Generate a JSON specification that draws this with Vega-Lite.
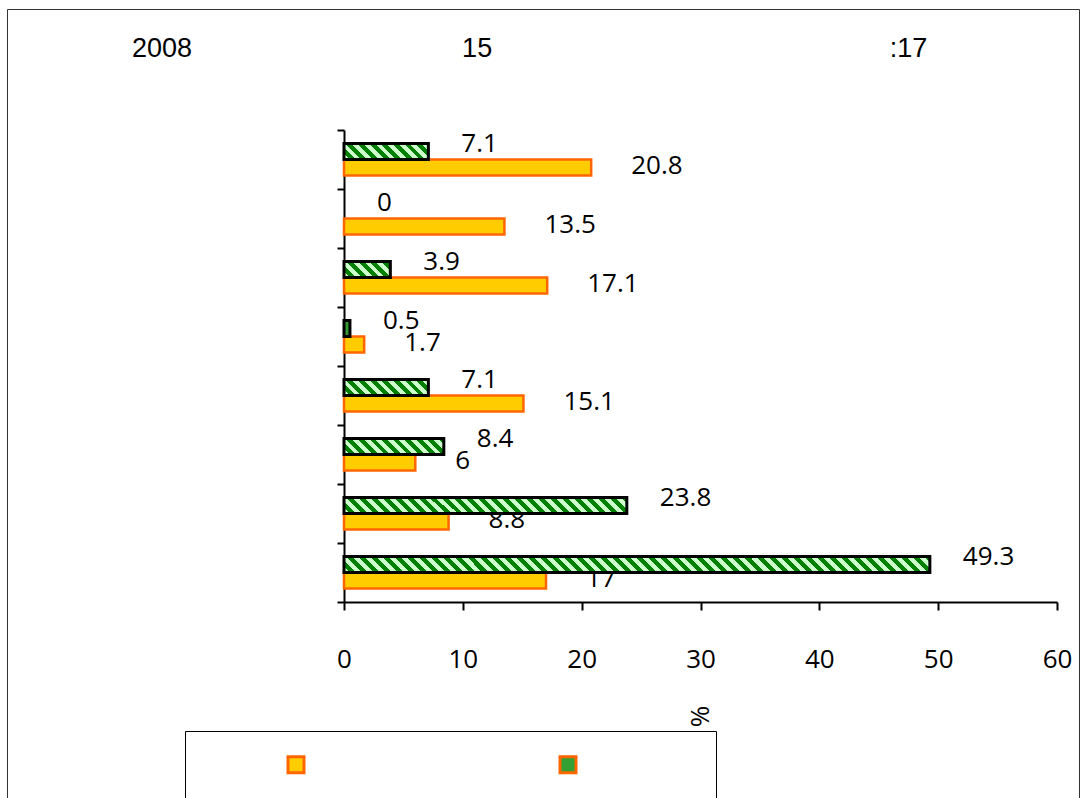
{
"$schema": "https://vega.github.io/schema/vega-lite/v6.json",
"width": 713,
"height": 472,
"autosize": {"type": "none"},
"padding": {"left": 344, "top": 130, "right": 24, "bottom": 196},
"background": "white",
"title": {
  "text": "2008\u00a0\u00a0\u00a0\u00a0\u00a0\u00a0\u00a0\u00a0\u00a0\u00a0\u00a0\u00a0\u00a0\u00a0\u00a0\u00a0\u00a0\u00a0\u00a0\u00a0\u00a0\u00a0\u00a0\u00a0\u00a0\u00a0\u00a0\u00a0\u00a0\u00a0\u00a0\u00a0\u00a0\u00a0\u00a0\u00a015\u00a0\u00a0\u00a0\u00a0\u00a0\u00a0\u00a0\u00a0\u00a0\u00a0\u00a0\u00a0\u00a0\u00a0\u00a0\u00a0\u00a0\u00a0\u00a0\u00a0\u00a0\u00a0\u00a0\u00a0\u00a0\u00a0\u00a0\u00a0\u00a0\u00a0\u00a0\u00a0\u00a0\u00a0\u00a0\u00a0\u00a0\u00a0\u00a0\u00a0\u00a0\u00a0\u00a0\u00a0\u00a0\u00a0\u00a0\u00a0\u00a0\u00a0\u00a0\u00a0\u00a0:17",
  "anchor": "start",
  "frame": "group",
  "dx": -212,
  "offset": -75,
  "baseline": "alphabetic",
  "fontSize": 27,
  "fontWeight": "normal",
  "font": "Liberation Sans",
  "color": "black"
},
"data": {"values": [
  {"cat": "c1", "s": "b", "value": 7.1},
  {"cat": "c1", "s": "a", "value": 20.8},
  {"cat": "c2", "s": "b", "value": 0},
  {"cat": "c2", "s": "a", "value": 13.5},
  {"cat": "c3", "s": "b", "value": 3.9},
  {"cat": "c3", "s": "a", "value": 17.1},
  {"cat": "c4", "s": "b", "value": 0.5},
  {"cat": "c4", "s": "a", "value": 1.7},
  {"cat": "c5", "s": "b", "value": 7.1},
  {"cat": "c5", "s": "a", "value": 15.1},
  {"cat": "c6", "s": "b", "value": 8.4},
  {"cat": "c6", "s": "a", "value": 6},
  {"cat": "c7", "s": "b", "value": 23.8},
  {"cat": "c7", "s": "a", "value": 8.8},
  {"cat": "c8", "s": "b", "value": 49.3},
  {"cat": "c8", "s": "a", "value": 17}
]},
"encoding": {
  "y": {"field": "cat", "type": "nominal", "sort": null,
        "scale": {"paddingInner": 0, "paddingOuter": 0},
        "axis": {"title": null, "labels": false, "ticks": true, "tickBand": "extent", "tickSize": 7, "tickWidth": 2, "tickColor": "black", "domainColor": "black", "domainWidth": 2, "grid": false}},
  "yOffset": {"field": "s", "type": "nominal", "scale": {"domain": ["b", "a"], "paddingInner": 0, "paddingOuter": 0.844}},
  "x": {"field": "value", "type": "quantitative", "scale": {"domain": [0, 60], "nice": false},
        "axis": {"values": [0, 10, 20, 30, 40, 50, 60], "title": "%", "titleAngle": 270, "titleX": 356.5, "titleY": 114, "titleAlign": "center", "titleBaseline": "middle", "titleFontSize": 26, "titleFontWeight": "normal", "titleColor": "black", "titleFont": "Open Sans", "labelFont": "Open Sans", "labelFontSize": 26, "labelColor": "black", "labelPadding": 36, "labelFlush": false, "tickSize": 8, "tickWidth": 2, "tickColor": "black", "domainColor": "black", "domainWidth": 2, "grid": false}}
},
"layer": [
  {
    "transform": [{"filter": "datum.s === 'a'"}],
    "mark": {"type": "bar", "stroke": "#ff6600", "strokeWidth": 2.5},
    "encoding": {
      "color": {"field": "s", "type": "nominal", "scale": {"domain": ["a", "b"], "range": ["#ffcc00", "#33a033"]},
        "legend": {"orient": "none", "legendX": -159, "legendY": 601, "direction": "horizontal", "columns": 2, "title": null,
          "labelExpr": "''", "symbolType": "square", "symbolSize": 256, "symbolStrokeWidth": 3, "symbolOffset": 77.5,
          "labelOffset": 114.5, "columnPadding": 61, "padding": 24, "strokeColor": "black",
          "encode": {
            "legend": {"strokeWidth": {"value": 2}}
          }
        }}
    }
  },
  {
    "transform": [{"filter": "datum.s === 'a'"}],
    "mark": {"type": "text", "align": "left", "baseline": "middle", "dx": 40, "dy": -1, "fontSize": 26, "font": "Open Sans", "color": "black"},
    "encoding": {"text": {"field": "value", "type": "nominal"}}
  },
  {
    "transform": [{"filter": "datum.s === 'b' && datum.value === 7.1"}],
    "mark": {"type": "bar", "stroke": "black", "strokeWidth": 3,
      "fill": {"gradient": "linear", "x1": 0, "y1": 1, "x2": 1.148, "y2": 0.782, "stops": [
            {"offset":0.058,"color":"#cfc"},{"offset":0.058,"color":"green"},
            {"offset":0.116,"color":"green"},{"offset":0.116,"color":"#cfc"},
            {"offset":0.174,"color":"#cfc"},{"offset":0.174,"color":"green"},
            {"offset":0.232,"color":"green"},{"offset":0.232,"color":"#cfc"},
            {"offset":0.29,"color":"#cfc"},{"offset":0.29,"color":"green"},
            {"offset":0.348,"color":"green"},{"offset":0.348,"color":"#cfc"},
            {"offset":0.406,"color":"#cfc"},{"offset":0.406,"color":"green"},
            {"offset":0.464,"color":"green"},{"offset":0.464,"color":"#cfc"},
            {"offset":0.522,"color":"#cfc"},{"offset":0.522,"color":"green"},
            {"offset":0.58,"color":"green"},{"offset":0.58,"color":"#cfc"},
            {"offset":0.638,"color":"#cfc"},{"offset":0.638,"color":"green"},
            {"offset":0.696,"color":"green"},{"offset":0.696,"color":"#cfc"},
            {"offset":0.754,"color":"#cfc"},{"offset":0.754,"color":"green"},
            {"offset":0.812,"color":"green"},{"offset":0.812,"color":"#cfc"},
            {"offset":0.87,"color":"#cfc"},{"offset":0.87,"color":"green"},
            {"offset":0.928,"color":"green"},{"offset":0.928,"color":"#cfc"},
            {"offset":0.986,"color":"#cfc"},{"offset":0.986,"color":"green"}]}},
    "encoding": {}
  },
  {
    "transform": [{"filter": "datum.s === 'b' && datum.value === 3.9"}],
    "mark": {"type": "bar", "stroke": "black", "strokeWidth": 3,
      "fill": {"gradient": "linear", "x1": 0, "y1": 1, "x2": 1.202, "y2": 0.585, "stops": [
            {"offset":0.095,"color":"#cfc"},{"offset":0.095,"color":"green"},
            {"offset":0.19,"color":"green"},{"offset":0.19,"color":"#cfc"},
            {"offset":0.285,"color":"#cfc"},{"offset":0.285,"color":"green"},
            {"offset":0.38,"color":"green"},{"offset":0.38,"color":"#cfc"},
            {"offset":0.475,"color":"#cfc"},{"offset":0.475,"color":"green"},
            {"offset":0.57,"color":"green"},{"offset":0.57,"color":"#cfc"},
            {"offset":0.665,"color":"#cfc"},{"offset":0.665,"color":"green"},
            {"offset":0.76,"color":"green"},{"offset":0.76,"color":"#cfc"},
            {"offset":0.855,"color":"#cfc"},{"offset":0.855,"color":"green"},
            {"offset":0.95,"color":"green"},{"offset":0.95,"color":"#cfc"}]}},
    "encoding": {}
  },
  {
    "transform": [{"filter": "datum.s === 'b' && datum.value === 0.5"}],
    "mark": {"type": "bar", "stroke": "black", "strokeWidth": 3, "fill": "#339933"},
    "encoding": {}
  },
  {
    "transform": [{"filter": "datum.s === 'b' && datum.value === 8.4"}],
    "mark": {"type": "bar", "stroke": "black", "strokeWidth": 3,
      "fill": {"gradient": "linear", "x1": 0, "y1": 1, "x2": 1.131, "y2": 0.819, "stops": [
            {"offset":0.05,"color":"#cfc"},{"offset":0.05,"color":"green"},
            {"offset":0.1,"color":"green"},{"offset":0.1,"color":"#cfc"},
            {"offset":0.15,"color":"#cfc"},{"offset":0.15,"color":"green"},
            {"offset":0.2,"color":"green"},{"offset":0.2,"color":"#cfc"},
            {"offset":0.25,"color":"#cfc"},{"offset":0.25,"color":"green"},
            {"offset":0.3,"color":"green"},{"offset":0.3,"color":"#cfc"},
            {"offset":0.35,"color":"#cfc"},{"offset":0.35,"color":"green"},
            {"offset":0.4,"color":"green"},{"offset":0.4,"color":"#cfc"},
            {"offset":0.45,"color":"#cfc"},{"offset":0.45,"color":"green"},
            {"offset":0.5,"color":"green"},{"offset":0.5,"color":"#cfc"},
            {"offset":0.55,"color":"#cfc"},{"offset":0.55,"color":"green"},
            {"offset":0.6,"color":"green"},{"offset":0.6,"color":"#cfc"},
            {"offset":0.65,"color":"#cfc"},{"offset":0.65,"color":"green"},
            {"offset":0.7,"color":"green"},{"offset":0.7,"color":"#cfc"},
            {"offset":0.75,"color":"#cfc"},{"offset":0.75,"color":"green"},
            {"offset":0.8,"color":"green"},{"offset":0.8,"color":"#cfc"},
            {"offset":0.85,"color":"#cfc"},{"offset":0.85,"color":"green"},
            {"offset":0.9,"color":"green"},{"offset":0.9,"color":"#cfc"},
            {"offset":0.95,"color":"#cfc"},{"offset":0.95,"color":"green"}]}},
    "encoding": {}
  },
  {
    "transform": [{"filter": "datum.s === 'b' && datum.value === 23.8"}],
    "mark": {"type": "bar", "stroke": "black", "strokeWidth": 3,
      "fill": {"gradient": "linear", "x1": 0, "y1": 1, "x2": 1.053, "y2": 0.94, "stops": [
            {"offset":0.02,"color":"#cfc"},{"offset":0.02,"color":"green"},
            {"offset":0.04,"color":"green"},{"offset":0.04,"color":"#cfc"},
            {"offset":0.06,"color":"#cfc"},{"offset":0.06,"color":"green"},
            {"offset":0.08,"color":"green"},{"offset":0.08,"color":"#cfc"},
            {"offset":0.1,"color":"#cfc"},{"offset":0.1,"color":"green"},
            {"offset":0.12,"color":"green"},{"offset":0.12,"color":"#cfc"},
            {"offset":0.14,"color":"#cfc"},{"offset":0.14,"color":"green"},
            {"offset":0.16,"color":"green"},{"offset":0.16,"color":"#cfc"},
            {"offset":0.18,"color":"#cfc"},{"offset":0.18,"color":"green"},
            {"offset":0.2,"color":"green"},{"offset":0.2,"color":"#cfc"},
            {"offset":0.22,"color":"#cfc"},{"offset":0.22,"color":"green"},
            {"offset":0.24,"color":"green"},{"offset":0.24,"color":"#cfc"},
            {"offset":0.26,"color":"#cfc"},{"offset":0.26,"color":"green"},
            {"offset":0.28,"color":"green"},{"offset":0.28,"color":"#cfc"},
            {"offset":0.3,"color":"#cfc"},{"offset":0.3,"color":"green"},
            {"offset":0.32,"color":"green"},{"offset":0.32,"color":"#cfc"},
            {"offset":0.34,"color":"#cfc"},{"offset":0.34,"color":"green"},
            {"offset":0.36,"color":"green"},{"offset":0.36,"color":"#cfc"},
            {"offset":0.38,"color":"#cfc"},{"offset":0.38,"color":"green"},
            {"offset":0.4,"color":"green"},{"offset":0.4,"color":"#cfc"},
            {"offset":0.42,"color":"#cfc"},{"offset":0.42,"color":"green"},
            {"offset":0.44,"color":"green"},{"offset":0.44,"color":"#cfc"},
            {"offset":0.46,"color":"#cfc"},{"offset":0.46,"color":"green"},
            {"offset":0.48,"color":"green"},{"offset":0.48,"color":"#cfc"},
            {"offset":0.5,"color":"#cfc"},{"offset":0.5,"color":"green"},
            {"offset":0.52,"color":"green"},{"offset":0.52,"color":"#cfc"},
            {"offset":0.54,"color":"#cfc"},{"offset":0.54,"color":"green"},
            {"offset":0.56,"color":"green"},{"offset":0.56,"color":"#cfc"},
            {"offset":0.58,"color":"#cfc"},{"offset":0.58,"color":"green"},
            {"offset":0.6,"color":"green"},{"offset":0.6,"color":"#cfc"},
            {"offset":0.62,"color":"#cfc"},{"offset":0.62,"color":"green"},
            {"offset":0.64,"color":"green"},{"offset":0.64,"color":"#cfc"},
            {"offset":0.66,"color":"#cfc"},{"offset":0.66,"color":"green"},
            {"offset":0.68,"color":"green"},{"offset":0.68,"color":"#cfc"},
            {"offset":0.7,"color":"#cfc"},{"offset":0.7,"color":"green"},
            {"offset":0.72,"color":"green"},{"offset":0.72,"color":"#cfc"},
            {"offset":0.74,"color":"#cfc"},{"offset":0.74,"color":"green"},
            {"offset":0.76,"color":"green"},{"offset":0.76,"color":"#cfc"},
            {"offset":0.78,"color":"#cfc"},{"offset":0.78,"color":"green"},
            {"offset":0.8,"color":"green"},{"offset":0.8,"color":"#cfc"},
            {"offset":0.82,"color":"#cfc"},{"offset":0.82,"color":"green"},
            {"offset":0.84,"color":"green"},{"offset":0.84,"color":"#cfc"},
            {"offset":0.86,"color":"#cfc"},{"offset":0.86,"color":"green"},
            {"offset":0.88,"color":"green"},{"offset":0.88,"color":"#cfc"},
            {"offset":0.9,"color":"#cfc"},{"offset":0.9,"color":"green"},
            {"offset":0.92,"color":"green"},{"offset":0.92,"color":"#cfc"},
            {"offset":0.94,"color":"#cfc"},{"offset":0.94,"color":"green"},
            {"offset":0.96,"color":"green"},{"offset":0.96,"color":"#cfc"},
            {"offset":0.98,"color":"#cfc"},{"offset":0.98,"color":"green"}]}},
    "encoding": {}
  },
  {
    "transform": [{"filter": "datum.s === 'b' && datum.value === 49.3"}],
    "mark": {"type": "bar", "stroke": "black", "strokeWidth": 3,
      "fill": {"gradient": "linear", "x1": 0, "y1": 1, "x2": 1.027, "y2": 0.972, "stops": [
            {"offset":0.01,"color":"#cfc"},{"offset":0.01,"color":"green"},
            {"offset":0.02,"color":"green"},{"offset":0.02,"color":"#cfc"},
            {"offset":0.03,"color":"#cfc"},{"offset":0.03,"color":"green"},
            {"offset":0.04,"color":"green"},{"offset":0.04,"color":"#cfc"},
            {"offset":0.05,"color":"#cfc"},{"offset":0.05,"color":"green"},
            {"offset":0.06,"color":"green"},{"offset":0.06,"color":"#cfc"},
            {"offset":0.07,"color":"#cfc"},{"offset":0.07,"color":"green"},
            {"offset":0.08,"color":"green"},{"offset":0.08,"color":"#cfc"},
            {"offset":0.09,"color":"#cfc"},{"offset":0.09,"color":"green"},
            {"offset":0.1,"color":"green"},{"offset":0.1,"color":"#cfc"},
            {"offset":0.11,"color":"#cfc"},{"offset":0.11,"color":"green"},
            {"offset":0.12,"color":"green"},{"offset":0.12,"color":"#cfc"},
            {"offset":0.13,"color":"#cfc"},{"offset":0.13,"color":"green"},
            {"offset":0.14,"color":"green"},{"offset":0.14,"color":"#cfc"},
            {"offset":0.15,"color":"#cfc"},{"offset":0.15,"color":"green"},
            {"offset":0.16,"color":"green"},{"offset":0.16,"color":"#cfc"},
            {"offset":0.17,"color":"#cfc"},{"offset":0.17,"color":"green"},
            {"offset":0.18,"color":"green"},{"offset":0.18,"color":"#cfc"},
            {"offset":0.19,"color":"#cfc"},{"offset":0.19,"color":"green"},
            {"offset":0.2,"color":"green"},{"offset":0.2,"color":"#cfc"},
            {"offset":0.21,"color":"#cfc"},{"offset":0.21,"color":"green"},
            {"offset":0.22,"color":"green"},{"offset":0.22,"color":"#cfc"},
            {"offset":0.23,"color":"#cfc"},{"offset":0.23,"color":"green"},
            {"offset":0.24,"color":"green"},{"offset":0.24,"color":"#cfc"},
            {"offset":0.25,"color":"#cfc"},{"offset":0.25,"color":"green"},
            {"offset":0.26,"color":"green"},{"offset":0.26,"color":"#cfc"},
            {"offset":0.27,"color":"#cfc"},{"offset":0.27,"color":"green"},
            {"offset":0.28,"color":"green"},{"offset":0.28,"color":"#cfc"},
            {"offset":0.29,"color":"#cfc"},{"offset":0.29,"color":"green"},
            {"offset":0.3,"color":"green"},{"offset":0.3,"color":"#cfc"},
            {"offset":0.31,"color":"#cfc"},{"offset":0.31,"color":"green"},
            {"offset":0.32,"color":"green"},{"offset":0.32,"color":"#cfc"},
            {"offset":0.33,"color":"#cfc"},{"offset":0.33,"color":"green"},
            {"offset":0.34,"color":"green"},{"offset":0.34,"color":"#cfc"},
            {"offset":0.35,"color":"#cfc"},{"offset":0.35,"color":"green"},
            {"offset":0.36,"color":"green"},{"offset":0.36,"color":"#cfc"},
            {"offset":0.37,"color":"#cfc"},{"offset":0.37,"color":"green"},
            {"offset":0.38,"color":"green"},{"offset":0.38,"color":"#cfc"},
            {"offset":0.39,"color":"#cfc"},{"offset":0.39,"color":"green"},
            {"offset":0.4,"color":"green"},{"offset":0.4,"color":"#cfc"},
            {"offset":0.41,"color":"#cfc"},{"offset":0.41,"color":"green"},
            {"offset":0.42,"color":"green"},{"offset":0.42,"color":"#cfc"},
            {"offset":0.43,"color":"#cfc"},{"offset":0.43,"color":"green"},
            {"offset":0.44,"color":"green"},{"offset":0.44,"color":"#cfc"},
            {"offset":0.45,"color":"#cfc"},{"offset":0.45,"color":"green"},
            {"offset":0.46,"color":"green"},{"offset":0.46,"color":"#cfc"},
            {"offset":0.47,"color":"#cfc"},{"offset":0.47,"color":"green"},
            {"offset":0.48,"color":"green"},{"offset":0.48,"color":"#cfc"},
            {"offset":0.49,"color":"#cfc"},{"offset":0.49,"color":"green"},
            {"offset":0.5,"color":"green"},{"offset":0.5,"color":"#cfc"},
            {"offset":0.51,"color":"#cfc"},{"offset":0.51,"color":"green"},
            {"offset":0.52,"color":"green"},{"offset":0.52,"color":"#cfc"},
            {"offset":0.53,"color":"#cfc"},{"offset":0.53,"color":"green"},
            {"offset":0.54,"color":"green"},{"offset":0.54,"color":"#cfc"},
            {"offset":0.55,"color":"#cfc"},{"offset":0.55,"color":"green"},
            {"offset":0.56,"color":"green"},{"offset":0.56,"color":"#cfc"},
            {"offset":0.57,"color":"#cfc"},{"offset":0.57,"color":"green"},
            {"offset":0.58,"color":"green"},{"offset":0.58,"color":"#cfc"},
            {"offset":0.59,"color":"#cfc"},{"offset":0.59,"color":"green"},
            {"offset":0.6,"color":"green"},{"offset":0.6,"color":"#cfc"},
            {"offset":0.61,"color":"#cfc"},{"offset":0.61,"color":"green"},
            {"offset":0.62,"color":"green"},{"offset":0.62,"color":"#cfc"},
            {"offset":0.63,"color":"#cfc"},{"offset":0.63,"color":"green"},
            {"offset":0.64,"color":"green"},{"offset":0.64,"color":"#cfc"},
            {"offset":0.65,"color":"#cfc"},{"offset":0.65,"color":"green"},
            {"offset":0.66,"color":"green"},{"offset":0.66,"color":"#cfc"},
            {"offset":0.67,"color":"#cfc"},{"offset":0.67,"color":"green"},
            {"offset":0.68,"color":"green"},{"offset":0.68,"color":"#cfc"},
            {"offset":0.69,"color":"#cfc"},{"offset":0.69,"color":"green"},
            {"offset":0.7,"color":"green"},{"offset":0.7,"color":"#cfc"},
            {"offset":0.71,"color":"#cfc"},{"offset":0.71,"color":"green"},
            {"offset":0.72,"color":"green"},{"offset":0.72,"color":"#cfc"},
            {"offset":0.73,"color":"#cfc"},{"offset":0.73,"color":"green"},
            {"offset":0.74,"color":"green"},{"offset":0.74,"color":"#cfc"},
            {"offset":0.75,"color":"#cfc"},{"offset":0.75,"color":"green"},
            {"offset":0.76,"color":"green"},{"offset":0.76,"color":"#cfc"},
            {"offset":0.77,"color":"#cfc"},{"offset":0.77,"color":"green"},
            {"offset":0.78,"color":"green"},{"offset":0.78,"color":"#cfc"},
            {"offset":0.79,"color":"#cfc"},{"offset":0.79,"color":"green"},
            {"offset":0.8,"color":"green"},{"offset":0.8,"color":"#cfc"},
            {"offset":0.81,"color":"#cfc"},{"offset":0.81,"color":"green"},
            {"offset":0.82,"color":"green"},{"offset":0.82,"color":"#cfc"},
            {"offset":0.83,"color":"#cfc"},{"offset":0.83,"color":"green"},
            {"offset":0.84,"color":"green"},{"offset":0.84,"color":"#cfc"},
            {"offset":0.85,"color":"#cfc"},{"offset":0.85,"color":"green"},
            {"offset":0.86,"color":"green"},{"offset":0.86,"color":"#cfc"},
            {"offset":0.87,"color":"#cfc"},{"offset":0.87,"color":"green"},
            {"offset":0.88,"color":"green"},{"offset":0.88,"color":"#cfc"},
            {"offset":0.89,"color":"#cfc"},{"offset":0.89,"color":"green"},
            {"offset":0.9,"color":"green"},{"offset":0.9,"color":"#cfc"},
            {"offset":0.91,"color":"#cfc"},{"offset":0.91,"color":"green"},
            {"offset":0.92,"color":"green"},{"offset":0.92,"color":"#cfc"},
            {"offset":0.93,"color":"#cfc"},{"offset":0.93,"color":"green"},
            {"offset":0.94,"color":"green"},{"offset":0.94,"color":"#cfc"},
            {"offset":0.95,"color":"#cfc"},{"offset":0.95,"color":"green"},
            {"offset":0.96,"color":"green"},{"offset":0.96,"color":"#cfc"},
            {"offset":0.97,"color":"#cfc"},{"offset":0.97,"color":"green"},
            {"offset":0.98,"color":"green"},{"offset":0.98,"color":"#cfc"},
            {"offset":0.99,"color":"#cfc"},{"offset":0.99,"color":"green"}]}},
    "encoding": {}
  },
  {
    "transform": [{"filter": "datum.s === 'b'"}],
    "mark": {"type": "text", "align": "left", "baseline": "middle", "dx": 33, "dy": -8, "fontSize": 26, "font": "Open Sans", "color": "black", "strokeWidth": 0},
    "encoding": {
      "text": {"field": "value", "type": "nominal"},
      "stroke": {"field": "value", "type": "quantitative", "scale": {"range": ["rgba(0,0,0,0)", "rgba(0,0,0,0)"]},
        "legend": {"orient": "none", "legendX": -337, "legendY": -121, "direction": "horizontal", "title": null,
          "gradientLength": 1072, "gradientThickness": 800, "gradientStrokeWidth": 0, "gradientOpacity": 0,
          "labelExpr": "''", "padding": 0, "strokeColor": "#333333",
          "encode": {"legend": {"strokeWidth": {"value": 2}}}}}
    }
  }
],
"config": {"view": {"stroke": null}, "font": "Liberation Sans"}
}
